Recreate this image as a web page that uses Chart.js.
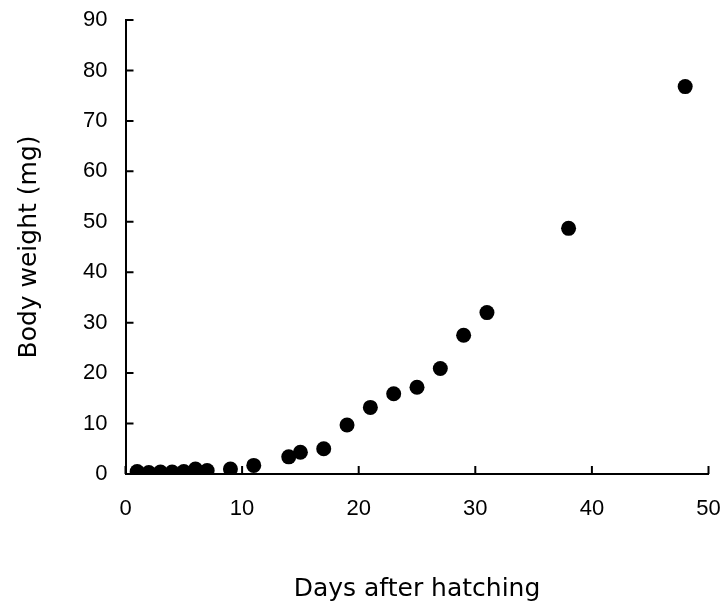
<!DOCTYPE html>
<html>
<head>
<meta charset="utf-8">
<script src="https://cdn.jsdelivr.net/npm/chart.js@4/dist/chart.umd.min.js"></script>
<style>
html,body{margin:0;padding:0;background:#fff;}
#wrap{width:726px;height:606px;}
</style>
</head>
<body>
<div id="wrap"><canvas id="c" width="726" height="606"></canvas></div>
<script>
const days = [1, 2, 3, 4, 5, 6, 7, 9, 11, 14, 15, 17, 19, 21, 23, 25, 27, 29, 31, 38, 48];
const bodyWeight = [0.5, 0.3, 0.4, 0.4, 0.5, 1.0, 0.7, 1.0, 1.7, 3.4, 4.3, 5.0, 9.7, 13.2, 15.9, 17.2, 20.9, 27.5, 32.0, 48.7, 76.8];
const xTicks = [0, 10, 20, 30, 40, 50];
const yTicks = [0, 10, 20, 30, 40, 50, 60, 70, 80, 90];
const xTitle = 'Days after hatching';
const yTitle = 'Body weight (mg)';

const points = days.map((d, i) => ({x: d, y: bodyWeight[i]}));

const inwardTicks = {
  id: 'inwardTicks',
  afterDraw(chart) {
    const ctx = chart.ctx;
    const xs = chart.scales.x, ys = chart.scales.y;
    const len = 8;
    ctx.save();
    ctx.strokeStyle = '#000';
    ctx.lineWidth = 2;
    ctx.beginPath();
    xTicks.forEach(v => {
      const px = xs.getPixelForValue(v);
      const py = ys.getPixelForValue(0);
      ctx.moveTo(px, py);
      ctx.lineTo(px, py - len);
    });
    yTicks.forEach(v => {
      const py = ys.getPixelForValue(v);
      const px = xs.getPixelForValue(0);
      ctx.moveTo(px, py);
      ctx.lineTo(px + len, py);
    });
    ctx.stroke();
    ctx.restore();
  }
};

new Chart(document.getElementById('c'), {
  type: 'scatter',
  data: {
    datasets: [{
      data: points,
      backgroundColor: '#000',
      borderColor: '#000',
      borderWidth: 0,
      pointRadius: 7.5,
      pointHoverRadius: 7.5
    }]
  },
  options: {
    responsive: false,
    animation: false,
    events: [],
    layout: {padding: {left: 0, right: 17.5, top: 20, bottom: 0}},
    plugins: {legend: {display: false}, tooltip: {enabled: false}},
    scales: {
      x: {
        type: 'linear',
        min: 0, max: 50,
        afterBuildTicks: s => { s.ticks = xTicks.map(v => ({value: v})); },
        afterFit: s => { s.height = 132; s.paddingLeft = 0; s.paddingRight = 0; },
        grid: {display: false, drawTicks: false},
        border: {display: true, color: '#000', width: 2},
        ticks: {color: '#000', padding: 22, font: {family: 'Liberation Sans', size: 22}},
        title: {display: true, text: xTitle, color: '#000', padding: {top: 0, bottom: 2},
          font: {family: 'DejaVu Sans', size: 25}}
      },
      y: {
        type: 'linear',
        min: 0, max: 90,
        afterBuildTicks: s => { s.ticks = yTicks.map(v => ({value: v})); },
        afterFit: s => { s.width = 125.5; s.paddingTop = 0; s.paddingBottom = 0; },
        grid: {display: false, drawTicks: false},
        border: {display: true, color: '#000', width: 2},
        ticks: {color: '#000', padding: 18, font: {family: 'Liberation Sans', size: 22}},
        title: {display: true, text: yTitle, color: '#000', padding: {top: 14, bottom: 0},
          font: {family: 'DejaVu Sans', size: 25}}
      }
    }
  },
  plugins: [inwardTicks]
});
</script>
</body>
</html>
